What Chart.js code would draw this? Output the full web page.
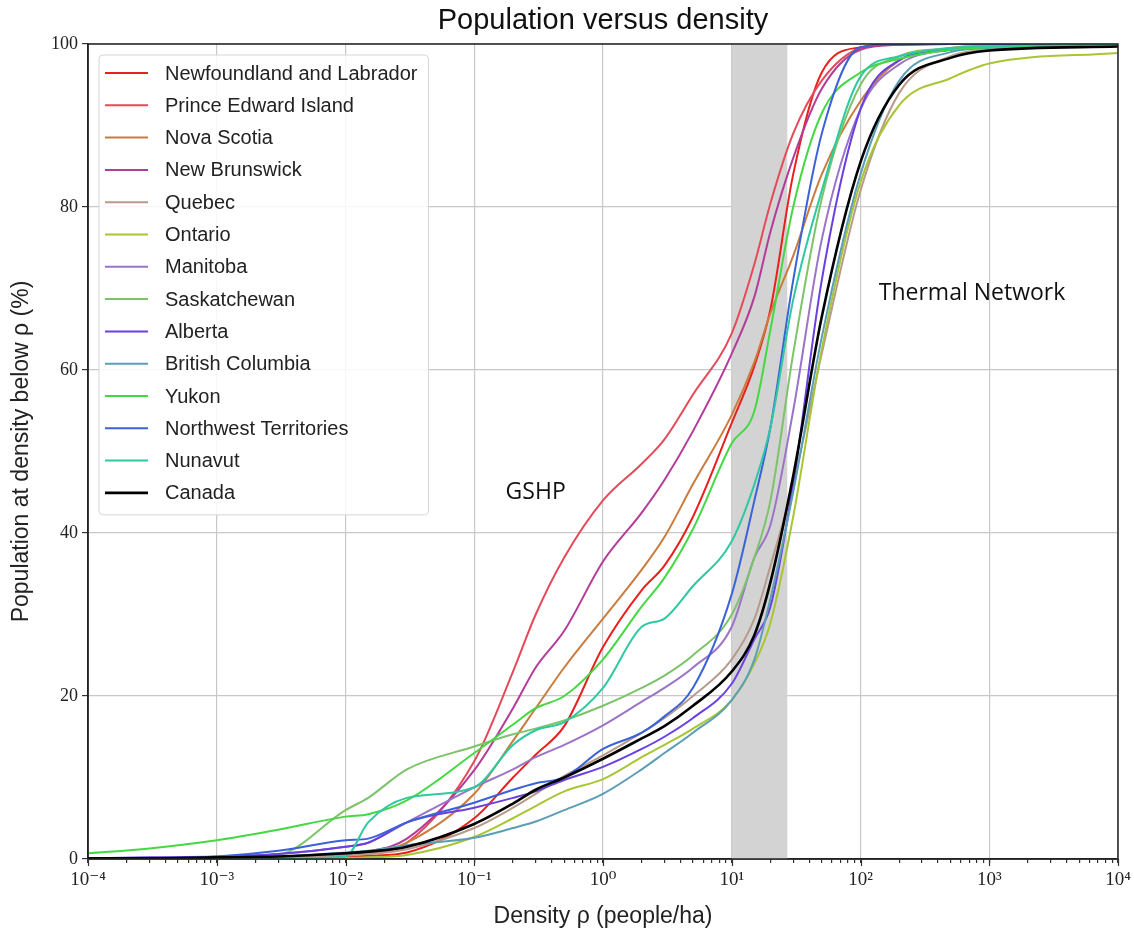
<!DOCTYPE html>
<html>
<head>
<meta charset="utf-8">
<title>Population versus density</title>
<script src="https://cdn.jsdelivr.net/npm/chart.js@4.4.1/dist/chart.umd.min.js"></script>
<style>
  html,body{margin:0;padding:0;background:#fff;}
  #wrap{width:1134px;height:935px;}
</style>
</head>
<body>
<div id="wrap"><canvas id="chart" width="1134" height="935"></canvas></div>
<script>
// Densities (people/ha) where every curve is sampled
const densities = [0.0001, 0.0003, 0.001, 0.003, 0.01, 0.015, 0.03, 0.1, 0.2, 0.3, 0.5, 1, 2, 3, 5, 10, 15, 20, 30, 50, 100, 200, 500, 1000, 10000];

const provinces = ['Newfoundland and Labrador','Prince Edward Island','Nova Scotia','New Brunswick','Quebec','Ontario','Manitoba','Saskatchewan','Alberta','British Columbia','Yukon','Northwest Territories','Nunavut','Canada'];
const colors = ['#e8201e','#e54a5a','#c97c3e','#b43b98','#b89a8a','#a8c534','#9b74c8','#7cc36a','#6a40e0','#5a9fb6','#45d845','#3b62d8','#2ec9a0','#000000'];

// % of population living below each density
const nl       = [0, 0, 0, 0.1, 0.3, 0.4, 0.8, 5, 10, 12.8, 16.3, 26, 33, 36, 42, 53.5, 60.5, 67.5, 84, 96.5, 99.6, 99.9, 100, 100, 100];
const pei      = [0, 0, 0, 0.1, 0.5, 0.7, 2, 12, 23, 30, 37, 44, 48.5, 51.5, 57, 64.5, 73, 80.5, 89, 95.5, 99.5, 100, 100, 100, 100];
const ns       = [0, 0, 0, 0.1, 0.5, 0.7, 2, 8, 14.5, 18.5, 23.5, 29.5, 35.5, 39.5, 46, 54.5, 61, 67, 74, 84, 93, 98, 99.5, 99.8, 100];
const nb       = [0, 0, 0, 0.2, 0.6, 0.9, 2.5, 10.9, 18.5, 23.5, 28, 36.5, 42.5, 46.5, 52.5, 62, 69, 77, 86, 94.5, 99.3, 99.9, 100, 100, 100];
const quebec   = [0, 0, 0.1, 0.2, 0.4, 0.6, 1.2, 3.8, 6.3, 8, 10.2, 12.7, 15.5, 17.3, 20, 24.5, 29.5, 36, 46, 62, 82, 94, 98.5, 99.3, 99.8];
const ontario  = [0, 0, 0, 0, 0.1, 0.2, 0.5, 2.7, 5, 6.5, 8.3, 9.8, 12.5, 14, 16, 19.5, 24, 29, 42, 62.5, 83, 92.5, 95.8, 97.6, 98.9];
const manitoba = [0, 0.1, 0.2, 0.6, 1.5, 2, 4.5, 8.8, 11, 12.5, 14, 16.4, 19.3, 21, 23.5, 28.5, 37, 41, 55, 76, 92, 97.5, 99.3, 99.6, 100];
const sask     = [0, 0, 0.1, 0.5, 6, 7.5, 11, 13.8, 15.3, 16, 17, 18.8, 21, 22.5, 25, 30, 37, 44, 62, 81, 95, 98.5, 99.5, 99.8, 100];
const alberta  = [0.1, 0.2, 0.3, 0.6, 1.5, 2, 4.5, 6.3, 7.5, 8.3, 9.7, 11.3, 13.5, 15, 17.3, 21.5, 27, 31, 46, 71, 92, 98, 99.3, 99.6, 99.8];
const bc       = [0, 0, 0.1, 0.3, 0.8, 1, 1.7, 2.6, 3.8, 4.6, 6, 8, 11, 13, 15.5, 19.5, 24.5, 32, 45, 64, 84, 95.5, 99, 99.5, 99.8];
const yukon    = [0.7, 1.3, 2.3, 3.6, 5.2, 5.5, 7.2, 13, 16.5, 18.5, 20, 24.5, 31, 34.5, 40.5, 51, 55, 65, 80, 91.5, 96.5, 98.2, 99.3, 99.6, 100];
const nwt      = [0, 0.1, 0.3, 1, 2.3, 2.5, 4.5, 6.9, 8.5, 9.3, 10, 13.5, 15.5, 17.5, 21, 32.5, 44, 53, 71, 89, 99.6, 100, 100, 100, 100];
const nunavut  = [0, 0, 0, 0, 0.3, 4.5, 7.5, 8.8, 14, 15.8, 16.8, 21, 28.5, 29.5, 33.5, 39, 46, 53, 68.6, 82, 96, 98.5, 99.5, 99.7, 100];
const canada   = [0.1, 0.1, 0.2, 0.3, 0.7, 0.9, 1.5, 4.3, 6.8, 8.5, 10, 12.3, 14.8, 16.3, 18.8, 23, 27.5, 34, 47, 66.5, 85.5, 95, 98.3, 99.2, 99.7];
const series = [nl, pei, ns, nb, quebec, ontario, manitoba, sask, alberta, bc, yukon, nwt, nunavut, canada];

const yTicks = [0, 20, 40, 60, 80, 100];
const bandFrom = 10, bandTo = 27;
const titleText = 'Population versus density';
const notes = [
  {text: 'GSHP', x: 0.3, y: 45},
  {text: 'Thermal Network', x: 735, y: 69.4}
];

const sup = {'-':'\u207B','0':'\u2070','1':'\u00B9','2':'\u00B2','3':'\u00B3','4':'\u2074','5':'\u2075','6':'\u2076','7':'\u2077','8':'\u2078','9':'\u2079'};
function pow10Label(v){
  const e = Math.round(Math.log10(v));
  return '10' + String(e).split('').map(c => sup[c]).join('');
}
function isDecade(v){ const l = Math.log10(v); return Math.abs(l - Math.round(l)) < 1e-6; }

const SANS = '"Liberation Sans", Arial, Helvetica, sans-serif';
const SERIF = '"Liberation Serif", "DejaVu Serif", "Times New Roman", serif';

// grey band between bandFrom and bandTo
const bandPlugin = {
  id: 'band',
  beforeDatasetsDraw(chart){
    const {ctx, chartArea, scales:{x}} = chart;
    const x0 = x.getPixelForValue(bandFrom), x1 = x.getPixelForValue(bandTo);
    ctx.save();
    ctx.fillStyle = '#d3d3d3';
    ctx.fillRect(x0, chartArea.top, x1 - x0, chartArea.bottom - chartArea.top);
    ctx.restore();
  }
};

// frame, longer decade ticks, title, annotations and the boxed legend
const decorPlugin = {
  id: 'decor',
  afterDraw(chart){
    const {ctx, chartArea, scales:{x, y}} = chart;
    const sets = chart.data.datasets;
    ctx.save();
    // frame
    ctx.strokeStyle = '#222'; ctx.lineWidth = 1.5;
    ctx.strokeRect(chartArea.left, chartArea.top, chartArea.right - chartArea.left, chartArea.bottom - chartArea.top);
    // major x ticks
    ctx.lineWidth = 1.2; ctx.strokeStyle = '#333';
    x.ticks.filter(t => isDecade(t.value)).forEach(t => {
      const px = Math.round(x.getPixelForValue(t.value)) + 0.5;
      ctx.beginPath(); ctx.moveTo(px, chartArea.bottom); ctx.lineTo(px, chartArea.bottom + 7); ctx.stroke();
    });
    // title
    ctx.fillStyle = '#111'; ctx.textAlign = 'center'; ctx.textBaseline = 'middle';
    ctx.font = '29px ' + SANS;
    ctx.fillText(titleText, (chartArea.left + chartArea.right) / 2, 21);
    // notes
    ctx.font = '23px "Open Sans", ' + SANS;
    notes.forEach(n => ctx.fillText(n.text, x.getPixelForValue(n.x), y.getPixelForValue(n.y)));
    // legend
    ctx.font = '20px ' + SANS;
    let maxW = 0;
    sets.forEach(d => { maxW = Math.max(maxW, ctx.measureText(d.label).width); });
    const left = chartArea.left + 11, top = chartArea.top + 11, rowH = 32.3;
    const w = 66 + maxW + 11, h = 18 + (sets.length - 1) * rowH + 22;
    ctx.fillStyle = 'rgba(255,255,255,0.85)';
    ctx.strokeStyle = '#d6d6d6'; ctx.lineWidth = 1;
    ctx.beginPath();
    if (ctx.roundRect) ctx.roundRect(left, top, w, h, 4); else ctx.rect(left, top, w, h);
    ctx.fill(); ctx.stroke();
    ctx.textAlign = 'left';
    sets.forEach((d, i) => {
      const yy = top + 18 + i * rowH;
      ctx.strokeStyle = d.borderColor; ctx.lineWidth = d.borderWidth;
      ctx.beginPath(); ctx.moveTo(left + 6, yy); ctx.lineTo(left + 49, yy); ctx.stroke();
      ctx.fillStyle = '#222';
      ctx.fillText(d.label, left + 66, yy + 1);
    });
    ctx.restore();
  }
};

const datasets = provinces.map((name, i) => ({
  label: name,
  data: densities.map((d, j) => ({x: d, y: series[i][j]})),
  borderColor: colors[i],
  backgroundColor: colors[i],
  borderWidth: name === 'Canada' ? 2.6 : 2,
  pointRadius: 0,
  cubicInterpolationMode: 'monotone',
  fill: false,
  order: provinces.length - i
}));

new Chart(document.getElementById('chart'), {
  type: 'line',
  data: {datasets},
  options: {
    responsive: false,
    animation: false,
    devicePixelRatio: 1,
    events: [],
    layout: {padding: {left: 0, right: 16, top: 44, bottom: 0}},
    plugins: {legend: {display: false}, tooltip: {enabled: false}, title: {display: false}},
    scales: {
      x: {
        type: 'logarithmic',
        min: 1e-4, max: 1e4,
        afterBuildTicks(scale){
          const t = [];
          for (let e = -4; e <= 4; e++) {
            for (let m = 1; m <= 9; m++) {
              const v = Number((m * Math.pow(10, e)).toPrecision(6));
              if (v <= 1e4) t.push({value: v, major: m === 1});
            }
          }
          scale.ticks = t;
        },
        afterFit(scale){ scale.height = 76; scale.paddingLeft = 0; scale.paddingRight = 0; },
        ticks: {
          autoSkip: false, maxRotation: 0, padding: 6,
          color: '#222',
          font: {family: SERIF, size: 19},
          callback: v => isDecade(v) ? pow10Label(v) : ''
        },
        grid: {
          color: c => (c.tick && isDecade(c.tick.value)) ? '#c8c8c8' : 'rgba(0,0,0,0)',
          tickColor: '#333',
          tickLength: 4,
          lineWidth: 1.2
        },
        border: {color: '#222', width: 1.5},
        title: {display: true, text: 'Density \u03C1 (people/ha)', color: '#222', font: {family: SANS, size: 23}, padding: {top: 8, bottom: 5}}
      },
      y: {
        min: 0, max: 100,
        afterBuildTicks(scale){ scale.ticks = yTicks.map(v => ({value: v})); },
        afterFit(scale){ scale.width = 88; },
        ticks: {color: '#222', padding: 4, font: {family: SERIF, size: 18}},
        grid: {color: '#c8c8c8', tickColor: '#333', tickLength: 6, lineWidth: 1.2},
        border: {color: '#222', width: 1.5},
        title: {display: true, text: 'Population at density below \u03C1 (%)', color: '#222', font: {family: SANS, size: 23}, padding: {top: 8, bottom: 5}}
      }
    }
  },
  plugins: [bandPlugin, decorPlugin]
});
</script>
</body>
</html>
